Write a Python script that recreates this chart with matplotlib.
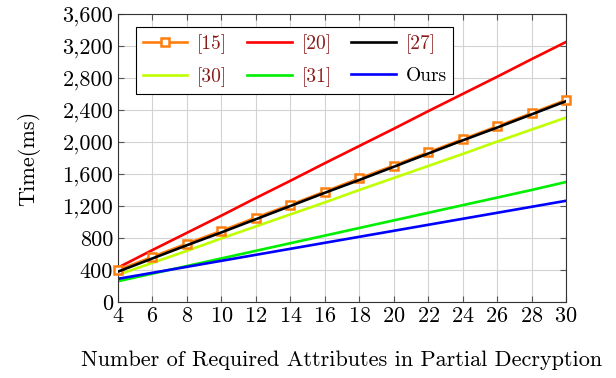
import matplotlib.pyplot as plt
from matplotlib.ticker import FuncFormatter, MultipleLocator

plt.rcParams['font.family'] = 'serif'
plt.rcParams['font.serif'] = ['cmr10', 'DejaVu Serif']
plt.rcParams['mathtext.fontset'] = 'cm'
plt.rcParams['axes.formatter.use_mathtext'] = True

x = [4, 6, 8, 10, 12, 14, 16, 18, 20, 22, 24, 26, 28, 30]
ref15 = [400, 565, 730, 890, 1055, 1215, 1380, 1545, 1705, 1870, 2035, 2195, 2360, 2525]
ref20 = [430, 650, 865, 1080, 1300, 1515, 1735, 1950, 2165, 2385, 2600, 2815, 3035, 3250]
ref27 = [380, 545, 710, 870, 1035, 1200, 1365, 1525, 1690, 1855, 2020, 2180, 2345, 2510]
ref30 = [340, 490, 640, 795, 945, 1095, 1245, 1400, 1550, 1700, 1850, 2005, 2155, 2305]
ref31 = [260, 355, 450, 545, 640, 735, 830, 925, 1020, 1115, 1210, 1305, 1400, 1500]
ours = [290, 365, 440, 515, 590, 665, 740, 815, 890, 965, 1040, 1115, 1190, 1265]

fs = 16
fig = plt.figure(figsize=(6.16, 3.78), dpi=100)
ax = fig.add_axes([0.1916, 0.201, 0.7272, 0.762])

lw = 1.9
h15, = ax.plot(x, ref15, color='#ff7f0e', lw=lw, marker='s', markersize=5.5,
               markerfacecolor='white', markeredgewidth=1.8, label='[15]', zorder=3, clip_on=False)
h20, = ax.plot(x, ref20, color='#ff0000', lw=lw, label='[20]', zorder=2)
h27, = ax.plot(x, ref27, color='black', lw=lw, label='[27]', zorder=3.5)
h30, = ax.plot(x, ref30, color='#bfff00', lw=lw, label='[30]', zorder=2)
h31, = ax.plot(x, ref31, color='#00ee00', lw=lw, label='[31]', zorder=2)
hours, = ax.plot(x, ours, color='#0000ff', lw=lw, label='Ours', zorder=2)

ax.set_xlim(4, 30)
ax.set_ylim(0, 3600)
ax.xaxis.set_major_locator(MultipleLocator(2))
ax.yaxis.set_major_locator(MultipleLocator(400))
ax.yaxis.set_major_formatter(FuncFormatter(lambda v, p: f'{int(v):,}'))
ax.grid(True, color='#d3d3d3', lw=0.8)
ax.set_axisbelow(True)
ax.tick_params(direction='in', top=True, right=True, labelsize=fs, color='#555555', length=4)
for s in ax.spines.values():
    s.set_color('#333333')

ax.set_xlabel('Number of Required Attributes in Partial Decryption', fontsize=fs, labelpad=17)
ax.set_ylabel('Time(ms)', fontsize=fs, labelpad=16)

# row-major order for a 3-column legend
handles = [h15, h30, h20, h31, h27, hours]
leg = ax.legend(handles, [h.get_label() for h in handles], ncol=3, loc='upper left',
                bbox_to_anchor=(0.04, 0.955), borderaxespad=0, fontsize=fs - 2,
                fancybox=False, edgecolor='black', framealpha=1, handlelength=2.3,
                columnspacing=1.0, borderpad=0.35, labelspacing=0.7, handletextpad=0.5)
leg.get_frame().set_linewidth(0.8)
for t in leg.get_texts():
    if t.get_text() != 'Ours':
        t.set_color('#8b1a1a')

fig.savefig('out.png', dpi=100)
